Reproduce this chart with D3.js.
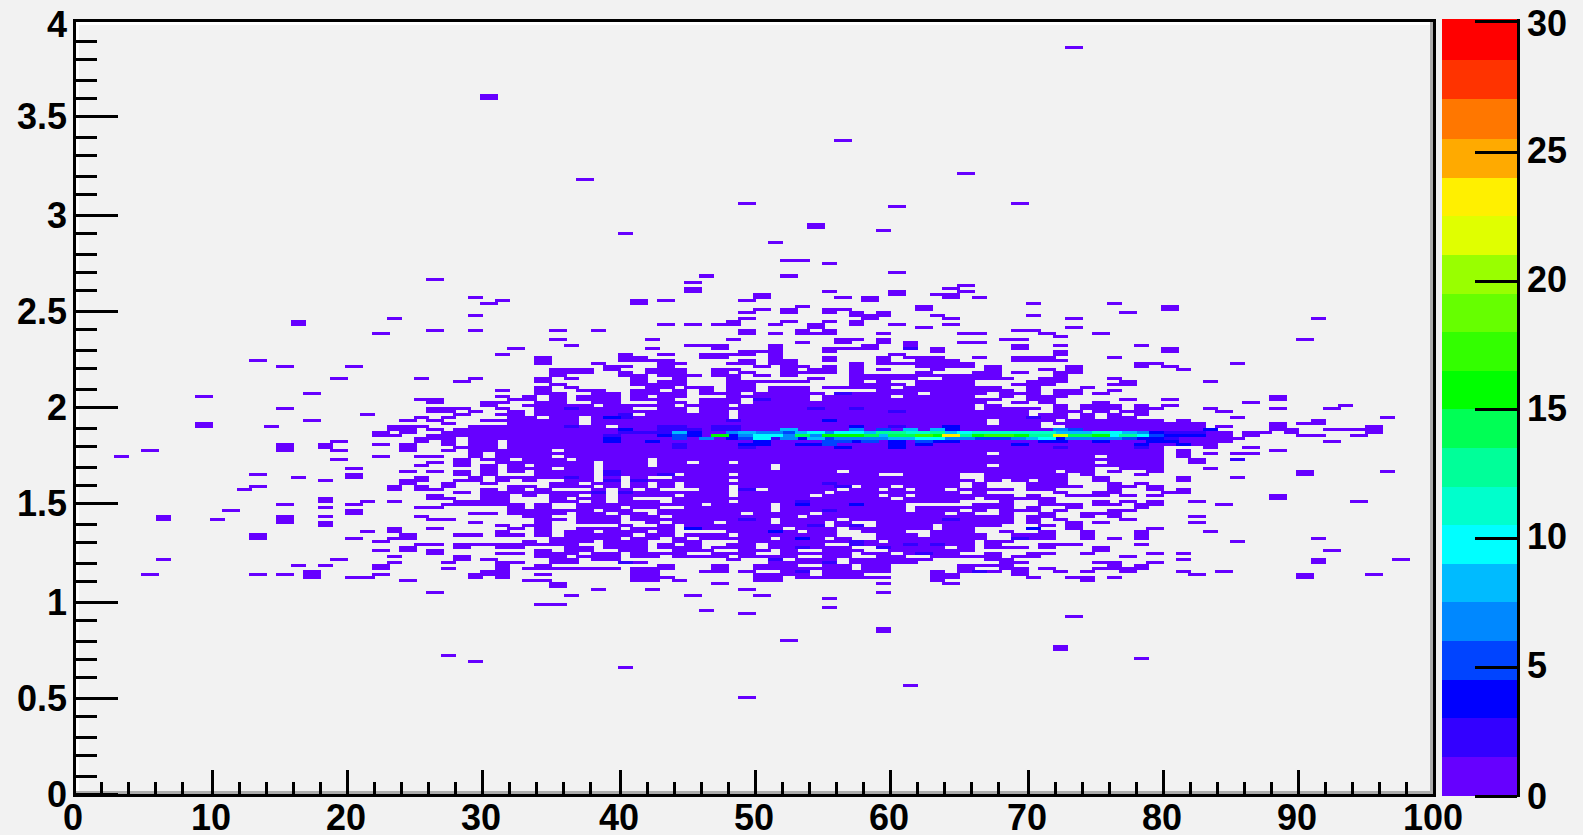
<!DOCTYPE html>
<html>
<head>
  <meta charset="utf-8">
  <title>2D histogram</title>
  <script src="https://d3js.org/d3.v7.min.js"></script>
  <style>
    body { margin: 0; background-color: #f2f2f2; overflow: hidden; }
    svg { display: block; }
    text { font-family: "Liberation Sans", Arial, sans-serif; font-weight: bold; font-size: 36px; fill: #000; }
    .tick line { stroke: #000; stroke-width: 3px; shape-rendering: crispEdges; }
  </style>
</head>
<body>
  <div id="my_dataviz"></div>
  <script>
    // histogram binning: 100 x bins, 257 rows counted from the top
    var xBins = 100, yRows = 257

    var xMajor = [0, 10, 20, 30, 40, 50, 60, 70, 80, 90, 100]
    var yMajor = [0, 0.5, 1, 1.5, 2, 2.5, 3, 3.5, 4]
    var zMajor = [0, 5, 10, 15, 20, 25, 30]
    var zEdges = [0, 1.5, 3, 4.5, 6, 7.5, 9, 10.5, 12, 13.5, 15, 16.5, 18, 19.5, 21, 22.5, 24, 25.5, 27, 28.5, 30]
    var zColors = ["#6600ff", "#3300ff", "#0000ff", "#0044ff", "#0088ff", "#00bbff", "#00ffff", "#00ffcc", "#00ff99", "#00ff55",
                   "#00ff00", "#33ff00", "#66ff00", "#99ff00", "#e0ff00", "#fff000", "#ffaa00", "#ff7700", "#ff3300", "#ff0000"]

    // [row, "occupied x bins"], count 1 unless listed in hotCells
    var upperCells = [
      [9,"73"],[25,"30"],[26,"30"],[40,"56"],[51,"65"],[53,"37"],[61,"49 69"],[62,"60"],[68,"54"],[69,"54"],[70,"59"],
      [71,"40"],[74,"51"],[80,"52-53"],[81,"55"],[84,"60"],[85,"46 52"],[86,"26"],[87,"45"],[88,"65"],[89,"45 64"],
      [90,"45 55 60 65"],[91,"50 60 63-64"],[92,"29 50 56 58 64 66"],[93,"31 41 43 49 58"],[94,"30 41 70 76"],
      [95,"53 62 80"],[96,"50 52 55 56 62 80"],[97,"49 52 55 57 59 77"],[98,"29 57 58 59 63 70"],[99,"23 49 58 64 73 91"],
      [100,"16 48 52 55 57"],[101,"16 43 45 47 48 51 54 57 60 64"],[102,"54 62 73"]
    ]

    var leftCells = [
      [103,"26 29"],[104,"22"],[109,"32"],[111,"31"],[112,"34"],[113,"13 34"],[114,"34"],[115,"15 20"],
      [119,"19 25 29 34"],[120,"28 34"],[122,"34"],[123,"31 34"],[124,"17"],[125,"9 31 33"],[126,"25-26 32-33"],
      [127,"26 30-31 34"],[128,"30 33"],[129,"15 26-28 31 34"],[130,"26-27 29 32 34"],[131,"21 28 31-32 34"],
      [132,"25 27 32-33"],[133,"17 24 26 30-34"],[134,"9 27 32-34"],[135,"9 14 23-25 29-34"],[136,"23-24 26 28-34"],
      [137,"22 24 27-34"],[138,"22-23 26-34"],[139,"25-27 29-34"],[140,"19 25 27 29-30 32-34"],
      [141,"15 18 22 24 27 29-30 32-34"],[142,"15 18 24 28-30 32-34"],[143,"5 15 19 24 27 29-34"],[144,"29 31-34"],
      [145,"3 22 25-26 29 31-34"],[146,"19 28 30-31 33"],[147,"26 28 31-34"],[148,"25 28 30 32 34"],
      [149,"20 30 32-34"],[150,"24 26 28 30 32 34"],[151,"13 20 28 30 34"],[152,"16 20 25 29 31-34"],
      [153,"18 24-25 28-29 31 33"],[154,"24 27 30"],[155,"13 23 25 27 32-33"],[156,"12 23 25-26 30 32 34"],
      [157,"28 30-33"],[158,"26 30-31 33"],[159,"18 26-27 30-31"],[160,"18 21 23 28-31"],[161,"15 20 27-32 34"],
      [162,"18 25-26 32 34"],[163,"11 20 32-34"],[164,"20 29-30 32-34"],[165,"6 15 18 25 33-34"],
      [166,"6 10 15 26-27 34"],[167,"15 18 29 34"],[168,"18 31 33-34"],[169,"23 26 32 34"],[170,"21 23 31 34"],
      [171,"13 24 28-29 31-32"],[172,"13 20 23-24"],[173,"22 33"],[174,"25-26 28-34"],[175,"24 28 31-32"],
      [176,"22 24 26 34"],[177,"26 31-32 34"],[178,"23 28"],[179,"6 19 28 30"],[180,"23 27 31-32"],
      [181,"16 18 22 31"],[182,"22 27 31 33-34"],[183,"17 30-31"],[184,"5 13 15 17 22 29-31 34"],
      [185,"17 20-21 29 31"],[186,"24 33-34"],[190,"26"],[194,"34"]
    ]

    var centreCells = [
      [103,"35 38 49 53 55"],[104,"49 51 53-55 59 65-66"],[106,"35 42 48 56-57 59"],[107,"53 56 59 61 65-66"],
      [108,"36 45-47 51 58 61"],[109,"42 47 51 55-58 61 63"],[110,"49-51 55 63"],[111,"40 43 46-49 51 60"],
      [112,"34 40-41 46-47 51 55 59 61-63 66"],[113,"34 40-43 49 51-52 55 59 62-64"],[114,"34 38 43-44 48-49 51-52 57 59-65"],
      [115,"39-40 43 50 52-53 55 57 62-65"],[116,"35-37 39 42-44 47-48 52 54-55 57 59 63"],
      [117,"35-37 40 42-44 47 49 52-55 57 62 66"],[118,"35 40-41 43-45 47-48 50 52 57-60 61-66"],
      [119,"34 36 41 44 48 54 57-60 61 64-66"],[120,"34 41 43-44 48-53 57 59 62-65"],[121,"35 41 42-44 48-49 57-60 62-65"],
      [122,"34 36 42-43 45-46 48-49 51-53 55-59 61-62 63-65"],[123,"34 37-38 41-42 44 46 48-49 51-53 59-65"],
      [124,"34-35 38-39 41-44 46-48 50-54 56-61 63-65"],[125,"35 37-39 41 43-44 48-53 55-59 61-65"],
      [126,"35 37-39 41-43 46-48 50-53 55-65"],[127,"34-35 38-39 43-44 46-48 50-65"],[128,"34-37 39-43 45-47 49-65"],
      [129,"34-38 39-40 43-44 46-65"],[130,"34-44 46-47 49-65"],[131,"34-40 42-47 49-65"],[132,"35-36 38-47 49-65"],
      [133,"35-36 38-65"],[134,"34-36 38-65"],[135,"34-38 40-65"],[136,"34-65"],[137,"34-65"],[138,"34-65"],[139,"34-65"],
      [140,"34-65"],[141,"34-65"],[142,"34-65"],[143,"34 36-65"],[144,"35-65"],[145,"34 36-65"],[146,"34-35 37-41 43-65"],
      [147,"35-37 39-41 43-44 46-47 49-65"],[148,"34-37 39-41 43-50 52-65"],[149,"34 36-37 39-50 52-65"],
      [150,"34-37 39-55 57-65"],[151,"34-37 39-43 45-47 49-58 61-64"],[152,"34-37 39 41 44-64"],[153,"36-37 39 41-47 49-65"],
      [154,"35-36 38-39 41 43 45-64"],[155,"35-37 39 41 43 45-47 49-56 58-59 61-64"],
      [156,"34 38 40 42 46-47 49 51-55 57-58 60 62-63 65"],[157,"34-38 40-47 49-54 56-64"],
      [158,"35-36 38 40-43 45-47 49-53 55-58 60 62-65"],[159,"35 37-38 40 44-59 61-65"],
      [160,"35-36 38 40-42 44-47 49-52 54-64"],[161,"34 37-45 47-50 52-60"],[162,"34 37-39 41-42 45-50 52-60 62-65"],
      [163,"34-37 39-40 43-50 52-60 62-64"],[164,"34-35 37-38 40-41 43-48 50-53 55-63 65"],
      [165,"34 37-39 41-42 44-52 54-65"],[166,"34-35 37-39 41-50 52-55 57-63 65"],
      [167,"34 37-39 42 44-46 48-50 52-54 56 59-65"],[168,"34 40 43 45-48 49-53 56-57 59-62 64-65"],
      [169,"34 37-39 41-43 46-51 53-55 57-62 64-65"],[170,"34 36-37 39-41 43 48-52 54-55 58-60 63-65"],
      [171,"34 36-40 42-43 45-47 49-55 59-61 63-65"],[172,"35-39 41-42 44 46-50 52-54 56 59-65"],
      [173,"35-37 39-41 44-45 49-58 60-65"],[174,"34-36 39-41 43 45 48-49 51-54 57-60 62-65"],
      [175,"36-37 39-41 43-45 47-49 51-56 59-63 65"],[176,"34 36-37 40-41 44-46 49-50 52 55-57 60-65"],
      [177,"34-36 38-39 41-44 47-49 52-56 58-59 61-64"],[178,"34-35 37-39 41-42 44-47 49-52 55-56 59-60 63-65"],
      [179,"35-36 38-39 48 51 53-55 57-62"],[180,"35-36 40-41 51-55 57-61"],
      [181,"34 43 47 50-52 55-56 58-59 65-66"],[182,"34-39 41-43 47 50-56 58-59 65"],
      [183,"41-42 46-47 49 52-53 55-57 58-59 63 65-66"],[184,"41-42 50-53 55-57 63-64"],
      [185,"41-43 50-51 53-59 63-64"],[186,"41-42 44 50-51 63"],[187,"35 47 59 64"],[188,"35"],
      [189,"38 42 49"],[190,"59"],[191,"36 45 50"],[192,"55"],[194,"34-35"],[195,"55"],[196,"46"],[197,"49"]
    ]

    var rightCells = [
      [103,"69-70"],[104,"66 71 75"],[105,"72"],[106,"68-69 90"],[107,"66"],[108,"69 72 78"],[109,"69 80"],[110,"72 80"],
      [111,"72"],[112,"66 69-71 76"],[113,"69-72"],[114,"78-79 85"],[115,"67 73 78 80"],[116,"67 71 73 81"],
      [117,"66-67 69 72-73"],[118,"66-67 72"],[119,"66-68 71-72 76"],[120,"70-72 77 83"],[121,"69-71 76-77"],
      [122,"66-67 70 74"],[123,"66-68 70 72-73 76"],[124,"66 68-70 72-73 75"],[125,"68 70-72 88"],
      [126,"66-67 70-71 77 80 88"],[127,"66 69 71 75 86"],[128,"67 72 74-76 78 80 93"],[129,"67-70 72 74-76 78-79 83 88 92"],
      [130,"66-69 72-73 75 77-78 84"],[131,"66-69 71-72 74 76 78"],[132,"66-72 74 76-77 85 96"],[133,"66 68-71 73-79 81 91"],
      [134,"66 68-70 72-82 88 90-91"],[135,"66-70 73-82 84 88 95"],[136,"66-83 88-89 92-95"],[137,"66-84 86-87 89 95"],
      [138,"66-84 86 90-91 94"],[139,"66-85"],[140,"66-84 92"],[141,"66-83"],[142,"66-79 83 86"],[143,"66-79 81 88"],
      [144,"66 68-79 81 83 85-86"],[145,"66-74 76-79 81"],[146,"66-79 82 85"],[147,"66-74 76-79 82"],[148,"66 68-79"],
      [149,"66-74 77-79 83"],[150,"66-71 73-74 76 79 90 96"],[151,"67-72 74 78 90"],[152,"67-72 75 81 85"],
      [153,"67 69 71-72 75 81"],[154,"66 70-72 76 78"],[155,"66 70-73 76-77 79"],[156,"66-68 70-71 76 79 81"],
      [157,"66 72 75-76 80-81"],[158,"66-68 70 73-75 77 79 88"],[159,"67-71 88"],[160,"68 71 75 77 79 82 94"],
      [161,"66-68 71-73 75-76 78-79 84"],[162,"66-68 70 73 78"],[163,"66 68-70 72 76-77"],[164,"68 71 74-76"],
      [165,"66-68 70-71 74 76 82"],[166,"66-68 70 72 77"],[167,"66-68 70 73 75 82"],[168,"66-67 71 73"],[169,"70 73 79"],
      [170,"68 71 74 78 83"],[171,"66 69-71 74 78"],[172,"66 69-71 74 76 78 91"],[173,"67-68 85"],[174,"67 71-73 78"],
      [175,"67-69 71 75"],[176,"75 92"],[177,"67 70-71 74 79 81"],[178,"66-67 69-70 77"],[179,"67-68 81 91 97"],
      [180,"68-69 75-76 79 91"],[181,"66-68 76 78"],[182,"68-69 71 75-78"],[183,"66-67 69 72 74 77 81 84"],
      [184,"69 82 90 95"],[185,"70 73-74 76 90"],[186,"74"],[198,"73"]
    ]

    var lowerCells = [
      [202,"59"],[203,"59"],[206,"52"],[208,"72"],[209,"72"],[211,"27"],[212,"78"],[213,"29"],[215,"40"],[221,"61"],[225,"49"]
    ]

    // [row, x bin, count] for every cell above the first colour band
    var hotCells = [
      [109,61,2],[124,56,2],[126,50,2],[129,36,2],[129,54,2],[129,57,2],[130,60,2],[131,40,2],[132,39,3],[132,40,2],[132,70,2],
      [133,48,2],[133,55,3],[135,36,2],[135,43,2],[135,44,2],[135,47,2],[135,48,2],[135,57,4],[135,60,2],[135,64,3],
      [136,40,3],[136,43,2],[136,44,2],[136,45,2],[136,47,2],[136,48,2],[136,52,8],[136,57,7],[136,59,5],[136,61,8],[136,63,8],
      [136,64,3],[136,72,7],[136,73,5],[136,83,3],
      [137,40,2],[137,41,2],[137,42,2],[137,43,2],[137,44,8],[137,45,4],[137,48,7],[137,49,8],[137,50,7],[137,51,7],[137,52,5],
      [137,53,8],[137,54,10],[137,55,7],[137,56,10],[137,57,10],[137,58,8],[137,59,13],[137,60,13],[137,61,11],[137,62,11],
      [137,63,13],[137,64,8],[137,65,10],[137,66,11],[137,67,11],[137,68,11],[137,69,11],[137,70,11],[137,71,11],[137,72,8],
      [137,73,8],[137,74,8],[137,75,11],[137,76,10],[137,77,8],[137,78,7],[137,79,3],[137,80,2],[137,81,2],[137,82,2],
      [138,39,2],[138,43,4],[138,44,5],[138,45,4],[138,47,15],[138,48,4],[138,49,7],[138,50,10],[138,51,10],[138,52,7],
      [138,53,14],[138,54,7],[138,55,15],[138,56,15],[138,57,15],[138,58,14],[138,59,8],[138,60,14],[138,61,14],[138,62,17],
      [138,63,15],[138,64,23],[138,65,13],[138,66,15],[138,67,17],[138,68,17],[138,69,15],[138,70,13],[138,71,13],[138,72,22],
      [138,73,14],[138,74,14],[138,75,15],[138,76,10],[138,77,13],[138,78,10],[138,79,5],[138,80,4],[138,81,3],[138,82,3],
      [139,39,3],[139,44,5],[139,46,7],[139,48,4],[139,49,5],[139,50,10],[139,51,2],[139,52,7],[139,53,4],[139,54,8],[139,55,5],
      [139,56,7],[139,57,7],[139,58,7],[139,59,7],[139,60,8],[139,61,8],[139,62,10],[139,63,10],[139,64,7],[139,65,7],[139,66,5],
      [139,67,5],[139,68,5],[139,69,7],[139,70,8],[139,71,10],[139,72,4],[139,73,7],[139,74,7],[139,75,7],[139,76,7],[139,77,5],
      [139,78,4],[139,79,4],[139,80,2],
      [140,39,4],[140,42,3],[140,50,4],[140,55,5],[140,56,5],[140,57,4],[140,58,5],[140,60,4],[140,62,5],[140,63,4],[140,64,4],
      [140,71,4],[140,72,3],[140,75,3],[140,79,4],[140,80,3],
      [141,44,2],[141,49,3],[141,50,4],[141,53,3],[141,54,3],[141,55,5],[141,60,4],[141,62,4],[141,69,3],[141,78,3],[141,81,4],
      [142,44,2],[142,49,2],[142,56,4],[142,60,3],[142,72,2],[142,78,2],
      [146,85,2],[150,39,2],[151,39,2],[151,43,2],[152,36,2],[153,39,2],[153,41,2],[154,55,2],[155,56,2],[156,49,2],
      [157,38,2],[157,40,2],[160,53,2],[161,53,4],[161,57,4],[163,55,2],[166,49,2],[166,64,2],[168,54,2],[168,57,2],
      [169,45,4],[169,70,3],[170,51,4],[172,53,4],[172,69,2],[173,57,2],[174,57,2],[174,61,2],[174,63,2],[175,53,2],
      [175,59,2],[177,62,2],[179,51,2],[180,40,2],[180,55,2],[183,53,2],[183,66,2]
    ]

    var width = 1583, height = 835

    var svg = d3.select("#my_dataviz")
      .append("svg")
        .attr("width", width)
        .attr("height", height)

    var x = d3.scaleLinear().domain([0, 100]).range([74.5, 1434.5])
    var y = d3.scaleLinear().domain([0, 4]).range([794.5, 20.5])
    var rowY = d3.scaleLinear().domain([0, yRows]).range([19, 793])
    var z = d3.scaleLinear().domain([0, 25, 30]).range([795.5, 152, 20.5])
    var colorOf = d3.scaleThreshold().domain(zEdges.slice(1, -1)).range(zColors)

    // the reference is a 3x blow-up, so edges sit on a 3 pixel grid
    function grid3(v) { return Math.floor(v / 3) * 3 }
    function tickPos(v) { return Math.min(3 * Math.ceil((v - 3.4) / 3) + 2.5, 1434.5) }

    function parseRow(row) {
      var out = []
      row[1].split(" ").forEach(function(part) {
        var ends = part.split("-").map(Number)
        for (var i = ends[0]; i <= ends[ends.length - 1]; i++) out.push(row[0] + "_" + i)
      })
      return out
    }

    var counts = new Map()
    upperCells.concat(leftCells, centreCells, rightCells, lowerCells).forEach(function(row) {
      parseRow(row).forEach(function(key) { counts.set(key, 1) })
    })
    hotCells.forEach(function(d) { counts.set(d[0] + "_" + d[1], d[2]) })

    var cells = Array.from(counts, function(e) {
      var p = e[0].split("_")
      return {row: +p[0], bin: +p[1], count: e[1]}
    }).sort(function(a, b) { return a.count - b.count })

    // pad bevel
    svg.append("rect").attr("x", 76).attr("y", 22).attr("width", 1357).attr("height", 3).attr("fill", "#fff")
    svg.append("rect").attr("x", 76).attr("y", 22).attr("width", 3).attr("height", 772).attr("fill", "#fff")
    svg.append("rect").attr("x", 1430).attr("y", 22).attr("width", 3).attr("height", 772).attr("fill", "#adadad")
    svg.append("rect").attr("x", 76).attr("y", 791).attr("width", 1357).attr("height", 3).attr("fill", "#adadad")

    svg.append("g").selectAll("rect")
      .data(cells)
      .enter()
      .append("rect")
        .attr("x", function(d) { return grid3(x(d.bin * 100 / xBins)) })
        .attr("width", function(d) { return grid3(x((d.bin + 1) * 100 / xBins)) + 3 - grid3(x(d.bin * 100 / xBins)) })
        .attr("y", function(d) { return Math.floor(rowY(d.row)) })
        .attr("height", function(d) { return Math.floor(rowY(d.row + 1)) - Math.floor(rowY(d.row)) })
        .attr("fill", function(d) { return colorOf(d.count) })

    // frame
    svg.append("rect")
      .attr("x", 74.5).attr("y", 20.5).attr("width", 1360).attr("height", 775)
      .attr("fill", "none").attr("stroke", "#000").attr("stroke-width", 3)

    // x axis
    var xMinor = d3.range(0, 101, 2)
    svg.append("g")
      .attr("transform", "translate(0,794)")
      .call(d3.axisBottom(x).tickValues(xMinor).tickSize(-12).tickSizeOuter(0).tickFormat(""))
      .call(placeTicks, "x")
    var xAxis = svg.append("g")
      .attr("transform", "translate(0,794)")
      .call(d3.axisBottom(x).tickValues(xMajor).tickSize(-24).tickSizeOuter(0).tickFormat(d3.format("d")))
      .call(placeTicks, "x")
    xAxis.selectAll("text").attr("x", -1.5).attr("y", 36).attr("dy", 0).attr("text-anchor", "middle")

    // y axis
    var yMinor = d3.range(0, 41).map(function(d) { return d / 10 })
    svg.append("g")
      .attr("transform", "translate(76,0)")
      .call(d3.axisLeft(y).tickValues(yMinor).tickSize(-21).tickSizeOuter(0).tickFormat(""))
      .call(placeTicks, "y")
    var yAxis = svg.append("g")
      .attr("transform", "translate(76,0)")
      .call(d3.axisLeft(y).tickValues(yMajor).tickSize(-42).tickSizeOuter(0).tickFormat(function(d) { return d }))
      .call(placeTicks, "y")
    yAxis.selectAll("text").attr("x", -9).attr("dy", "0.33em").attr("text-anchor", "end")
      .attr("y", function(d) { return d === 4 ? 5 : 1 })

    // colour bar
    var bands = zColors.map(function(c, i) { return {color: c, lo: zEdges[i], hi: zEdges[i + 1]} })
    svg.append("g").selectAll("rect")
      .data(bands)
      .enter()
      .append("rect")
        .attr("x", 1442)
        .attr("width", 75)
        .attr("y", function(d) { return d.hi === 30 ? 19 : Math.round(z(d.hi)) })
        .attr("height", function(d) { return Math.round(z(d.lo)) - (d.hi === 30 ? 19 : Math.round(z(d.hi))) })
        .attr("fill", function(d) { return d.color })

    var zAxis = svg.append("g")
      .attr("transform", "translate(1517,0)")
      .call(d3.axisLeft(z).tickValues(zMajor).tickSize(42).tickSizeOuter(0).tickFormat(d3.format("d")))
    zAxis.select(".domain").remove()
    zAxis.selectAll("text").attr("x", 10).attr("text-anchor", "start").attr("dy", "0.33em")
      .attr("y", function(d) { return d === 30 ? 3 : d === 0 ? 1 : -1 })
    svg.append("rect").attr("x", 1517).attr("y", 19).attr("width", 3).attr("height", 778).attr("fill", "#000")

    function placeTicks(sel, dir) {
      sel.select(".domain").remove()
      sel.selectAll(".tick").attr("transform", function(d) {
        return dir === "x" ? "translate(" + tickPos(x(d)) + ",0)" : "translate(0," + tickPos(y(d)) + ")"
      })
    }
  </script>
</body>
</html>
